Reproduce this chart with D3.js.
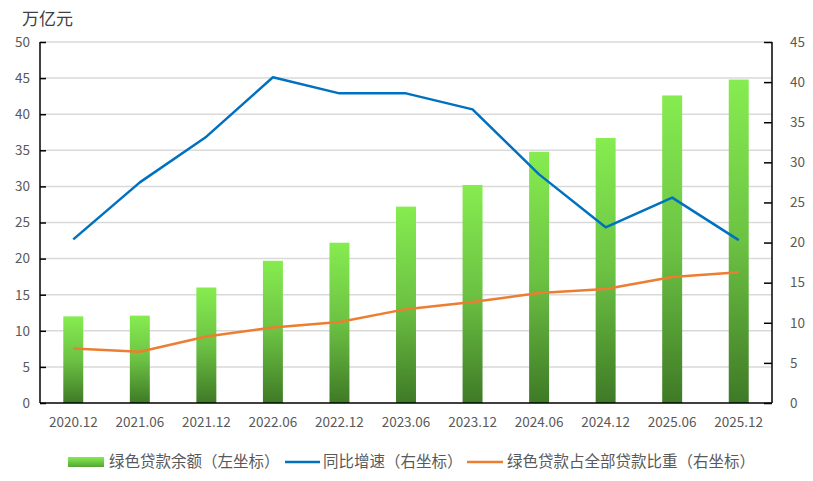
<!DOCTYPE html>
<html><head><meta charset="utf-8">
<script src="https://cdn.jsdelivr.net/npm/d3@7"></script>
<style>body{margin:0;background:#fff;} svg{display:block;}</style>
</head><body>
<svg id="c" width="813" height="481"></svg>
<script>
const categories = ["2020.12","2021.06","2021.12","2022.06","2022.12","2023.06","2023.12","2024.06","2024.12","2025.06","2025.12"];
const balance = [12.0, 12.1, 16.0, 19.7, 22.2, 27.2, 30.2, 34.8, 36.7, 42.6, 44.8];
const growth = [20.4, 27.5, 33.2, 40.6, 38.6, 38.6, 36.6, 28.5, 21.9, 25.6, 20.3];
const share = [6.8, 6.4, 8.3, 9.4, 10.1, 11.7, 12.6, 13.7, 14.2, 15.7, 16.3];
const leftTicks = [0,5,10,15,20,25,30,35,40,45,50];
const rightTicks = [0,5,10,15,20,25,30,35,40,45];
const unitLabel = "万亿元";
const legendLabels = ["绿色贷款余额（左坐标）","同比增速（右坐标）","绿色贷款占全部贷款比重（右坐标）"];

const svg = d3.select("#c");
const L = 40, R = 772, T = 42, B = 403;
const font = "'Noto Sans CJK SC','Noto Sans',sans-serif";
const gray = "#595959";

const x = d3.scaleBand().domain(categories).range([L, R]).paddingInner(0.7).paddingOuter(0.35);
const xc = d => x(d) + x.bandwidth()/2;
const yL = d3.scaleLinear().domain([0,50]).range([B, T]);
const yR = d3.scaleLinear().domain([0,45]).range([B, T]);

const defs = svg.append("defs");
const grad = defs.append("linearGradient").attr("id","g").attr("x1",0).attr("y1",0).attr("x2",0).attr("y2",1);
grad.append("stop").attr("offset","0%").attr("stop-color","#86ec50");
grad.append("stop").attr("offset","50%").attr("stop-color","#6cc243");
grad.append("stop").attr("offset","100%").attr("stop-color","#3f7a26");

// gridlines
svg.append("g").selectAll("line").data(leftTicks.filter(d=>d>0)).join("line")
  .attr("x1", L).attr("x2", R).attr("y1", d=>yL(d)).attr("y2", d=>yL(d))
  .attr("stroke","#d9d9d9").attr("stroke-width",1.5);

// bars
svg.append("g").selectAll("rect").data(balance).join("rect")
  .attr("x",(d,i)=>x(categories[i])).attr("width",x.bandwidth())
  .attr("y",d=>yL(d)).attr("height",d=>yL(0)-yL(d))
  .attr("fill","url(#g)");

// lines
const lineR = d3.line().x((d,i)=>xc(categories[i])).y(d=>yR(d));
svg.append("path").datum(growth).attr("d",lineR).attr("fill","none").attr("stroke","#0070c0").attr("stroke-width",2.5).attr("stroke-linejoin","round");
svg.append("path").datum(share).attr("d",lineR).attr("fill","none").attr("stroke","#ed7d31").attr("stroke-width",2.5).attr("stroke-linejoin","round");

// axes
const axL = svg.append("g").attr("transform",`translate(${L},0)`)
  .call(d3.axisLeft(yL).tickValues(leftTicks).tickSize(-6).tickPadding(10).tickFormat(d3.format("d")));
const axR = svg.append("g").attr("transform",`translate(${R},0)`)
  .call(d3.axisRight(yR).tickValues(rightTicks).tickSize(-8).tickPadding(18).tickFormat(d3.format("d")));
const axB = svg.append("g").attr("transform",`translate(0,${B})`)
  .call(d3.axisBottom(x).tickSize(0).tickPadding(14));
[axL,axR,axB].forEach(a=>{
  a.select(".domain").attr("stroke","#000").attr("stroke-width",1.5);
  a.selectAll(".tick line").attr("stroke","#000").attr("stroke-width",1.5);
  a.selectAll("text").attr("fill",gray).style("font-family",font).style("font-size","13.5px");
});
axL.select(".domain").attr("d",`M0,${B}V${T}`);
axR.select(".domain").attr("d",`M0,${B}V${T}`);
axB.select(".domain").attr("d",`M${L},0H${R}`);

svg.append("text").attr("x",22).attr("y",25).text(unitLabel)
  .attr("fill","#404040").style("font-family",font).style("font-size","17px");

// legend
const ly = 462;
const lg = svg.append("g").style("font-family",font).style("font-size","15.5px").attr("fill",gray);
const lgrad = defs.append("linearGradient").attr("id","lg").attr("x1",0).attr("y1",0).attr("x2",0).attr("y2",1);
lgrad.append("stop").attr("offset","0%").attr("stop-color","#86ec50");
lgrad.append("stop").attr("offset","100%").attr("stop-color","#55a536");
lg.append("rect").attr("x",68).attr("y",ly-5).attr("width",36).attr("height",10).attr("fill","url(#lg)");
lg.append("text").attr("x",109).attr("y",ly).attr("dy","0.35em").text(legendLabels[0]);
lg.append("line").attr("x1",285).attr("x2",320).attr("y1",ly).attr("y2",ly).attr("stroke","#0070c0").attr("stroke-width",2.5);
lg.append("text").attr("x",323).attr("y",ly).attr("dy","0.35em").text(legendLabels[1]);
lg.append("line").attr("x1",467).attr("x2",503).attr("y1",ly).attr("y2",ly).attr("stroke","#ed7d31").attr("stroke-width",2.5);
lg.append("text").attr("x",507).attr("y",ly).attr("dy","0.35em").text(legendLabels[2]);
</script>
</body></html>
